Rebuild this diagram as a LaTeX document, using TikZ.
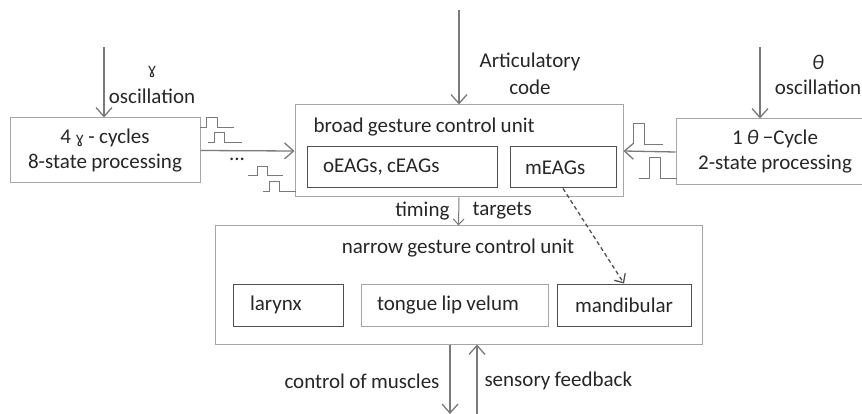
\documentclass[tikz,border=0pt]{standalone}
\usepackage{fontspec}
\setmainfont{Carlito}[WordSpace=0.9]
\newfontfamily\ipafont{DejaVu Sans}
\usetikzlibrary{arrows.meta,positioning}
\definecolor{linegray}{HTML}{7A7A7A}
\definecolor{boxgray}{HTML}{A6A6A6}
\definecolor{darkbox}{HTML}{505050}
\definecolor{txtgray}{HTML}{262626}
\newcommand{\gam}{{\ipafont\fontsize{15}{18}\selectfont ɣ}}
\frenchspacing

\begin{document}
\begin{tikzpicture}[x=1pt,y=-1pt,
    every node/.style={font=\fontsize{21}{25}\selectfont, text=txtgray},
    outerbox/.style={draw=boxgray, line width=1pt, inner sep=0pt},
    unitbox/.style={draw=darkbox, line width=1pt, inner sep=0pt, align=flush left},
    flow/.style={draw=linegray, line width=1.3pt, -{Straight Barb[length=9pt,width=16pt]}},
    pulse/.style={draw=linegray, line width=0.9pt}]
    \clip (0,0) rectangle (862,414);

    % Oscillator boxes
    \node[outerbox, minimum width=190, minimum height=65, align=center] (gbox) at (105,150.5)
        {4 \gam\ - cycles\\8-state processing};
    \node[outerbox, minimum width=198, minimum height=66, align=center] (tbox) at (775,152)
        {1 \textit{θ} −Cycle\\2-state processing};

    % Broad gesture control unit
    \node[outerbox, minimum width=328, minimum height=92] (broad) at (459,151) {};
    \node[anchor=west] (broadlbl) at (310,127) {broad gesture control unit};
    \node[unitbox, minimum width=190, minimum height=41, text width=158, inner xsep=16pt] (oeag) at (402,167.5) {oEAGs, cEAGs};
    \node[unitbox, minimum width=106, minimum height=41, text width=76, inner xsep=15pt] (meag) at (563,167.5) {mEAGs};

    % Narrow gesture control unit
    \node[outerbox, minimum width=487, minimum height=118] (narrow) at (458.5,285) {};
    \node (narrowlbl) at (458,248) {narrow gesture control unit};
    \node[unitbox, minimum width=110, minimum height=42, text width=76, inner xsep=17pt] (larynx) at (288,305) {larynx};
    \node[unitbox, draw=boxgray, minimum width=187, minimum height=42, text width=155, inner xsep=16pt] (tongue) at (454.5,305) {tongue lip velum};
    \node[unitbox, minimum width=134, minimum height=42, text width=98, inner xsep=18pt] (mandib) at (624,305) {mandibular};

    % Inputs from above
    \coordinate (gsrc) at (104,47);
    \coordinate (asrc) at (459,10);
    \coordinate (tsrc) at (760,47);
    \draw[flow] (gsrc) -- (gsrc |- gbox.north);
    \draw[flow] (asrc) -- (broad.north);
    \draw[flow] (tsrc) -- (tsrc |- tbox.north);
    \node (glbl) at (152,72) {\gam};
    \node (gosc) at (152,96) {oscillation};
    \node (artlbl) at (530,62) {Articulatory};
    \node (codelbl) at (530,87) {code};
    \node (tlbl) at (818,62) {\textit{θ}};
    \node (tosc) at (818,87) {oscillation};

    % Oscillator outputs
    \draw[flow] (gbox.east) -- (broad.west);
    \draw[flow] (tbox.west) -- (broad.east);
    \node (dots) at (237,159) {...};

    % Pulse trains
    \draw[pulse] (200,127) -- (206,127) -- (206,117) -- (217,117) -- (217,127) -- (234,127);
    \draw[pulse] (208,142) -- (214,142) -- (214,132) -- (224,132) -- (224,142) -- (242,142);
    \draw[pulse] (248,175) -- (257,175) -- (257,166) -- (267,166) -- (267,175) -- (283,175);
    \draw[pulse] (263,191) -- (269,191) -- (269,181) -- (279,181) -- (279,191) -- (296,191);
    \draw[pulse] (633,144) -- (633,123) -- (644,123) -- (644,144) -- (663,144);
    \draw[pulse] (639,178) -- (649,178) -- (649,157) -- (660,157) -- (660,178) -- (677,178);

    % Broad to narrow
    \draw[flow, line width=1pt, -{Straight Barb[length=6pt,width=11pt]}] (broad.south) -- (narrow.north);
    \node[anchor=east] (timing) at (453,211) {timing};
    \node[anchor=west] (targets) at (469,211) {targets};
    \draw[flow, draw=darkbox, line width=1.3pt, dashed, dash pattern=on 4pt off 3pt, -{Straight Barb[length=7pt,width=13pt]}] (meag.south) -- (mandib.north);

    % Muscles and feedback
    \coordinate (mout) at (450,414);
    \coordinate (fin) at (477,414);
    \draw[flow] (narrow.south -| mout) -- (mout);
    \draw[flow] (fin) -- (narrow.south -| fin);
    \node[anchor=east] (musc) at (443,381) {control of muscles};
    \node[anchor=west] (sens) at (481,381) {sensory feedback};
\end{tikzpicture}
\end{document}
